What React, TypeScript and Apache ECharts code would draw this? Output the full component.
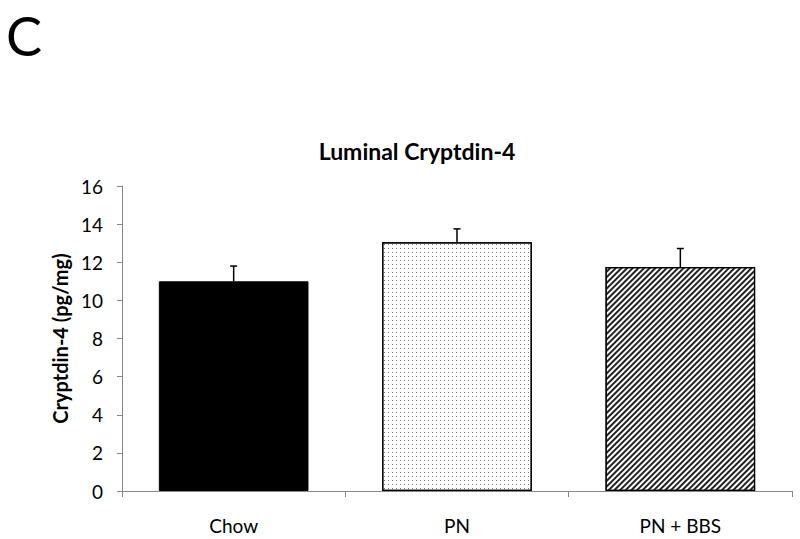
import React, { useEffect, useRef } from "react";
import * as echarts from "echarts";

const categories = ["Chow", "PN", "PN + BBS"];
const means = [11.0, 13.05, 11.75];
const errors = [0.8, 0.7, 0.97];
const yTicks = { min: 0, max: 16, interval: 2 };
const titleText = "Luminal Cryptdin-4";
const yAxisName = "Cryptdin-4 (pg/mg)";
const panelLabel = "C";

const FONT = "Lato, 'Open Sans', sans-serif";

export default function App() {
  const ref = useRef<HTMLDivElement | null>(null);
  useEffect(() => {
    document.body.style.margin = "0";
    if (!ref.current) return;
    const chart = echarts.init(ref.current, null, { renderer: "svg" });
    const barData = means.map((v, i) => {
      if (i === 0) {
        return { value: v, itemStyle: { color: "#000", borderColor: "#000", borderWidth: 1 } };
      }
      if (i === 1) {
        return {
          value: v,
          itemStyle: {
            color: "#fff",
            borderColor: "#000",
            borderWidth: 1.2,
            decal: {
              symbol: "rect",
              symbolSize: 1,
              color: "#777",
              backgroundColor: "#fff",
              dashArrayX: [1, 3],
              dashArrayY: [1, 3],
              rotation: 0,
            },
          },
        };
      }
      return {
        value: v,
        itemStyle: {
          color: "#fff",
          borderColor: "#000",
          borderWidth: 1.2,
          decal: {
            symbol: "rect",
            symbolSize: 1,
            color: "#222",
            backgroundColor: "#fff",
            dashArrayX: [1, 0],
            dashArrayY: [1.8, 1.2],
            rotation: -Math.PI / 4,
          },
        },
      };
    });
    const errData = means.map((m, i) => [i, m, m + errors[i]]);
    chart.setOption({
      animation: false,
      backgroundColor: "#fff",
      textStyle: { fontFamily: FONT },
      grid: { left: 122, right: 8, top: 186, bottom: 48, containLabel: false },
      graphic: [
        {
          type: "text",
          x: 6,
          y: 35,
          style: {
            text: panelLabel,
            fontSize: 54,
            lineHeight: 54,
            fontFamily: FONT,
            fill: "#000",
            align: "left",
            verticalAlign: "middle",
          },
        },
        {
          type: "text",
          x: 417,
          y: 151,
          style: {
            text: titleText,
            fontSize: 23,
            fontWeight: "bold",
            fontFamily: FONT,
            fill: "#000",
            align: "center",
            verticalAlign: "middle",
          },
        },
      ],
      xAxis: {
        type: "category",
        data: categories,
        axisLine: { lineStyle: { color: "#888", width: 1 } },
        axisTick: { show: true, alignWithLabel: false, length: 6, lineStyle: { color: "#888" } },
        axisLabel: { color: "#000", fontSize: 19, margin: 25, fontFamily: FONT },
      },
      yAxis: {
        type: "value",
        min: yTicks.min,
        max: yTicks.max,
        interval: yTicks.interval,
        name: yAxisName,
        nameLocation: "middle",
        nameGap: 52,
        nameTextStyle: { fontSize: 20, fontWeight: "bold", color: "#000", fontFamily: FONT },
        axisLine: { show: true, lineStyle: { color: "#888", width: 1 } },
        axisTick: { show: true, length: 5, lineStyle: { color: "#888" } },
        axisLabel: { color: "#000", fontSize: 19, margin: 19, fontFamily: FONT },
        splitLine: { show: false },
      },
      series: [
        {
          type: "bar",
          data: barData,
          barWidth: "67%",
          z: 2,
        },
        {
          type: "custom",
          z: 5,
          data: errData,
          encode: { x: 0, y: [1, 2] },
          renderItem: (params: any, api: any) => {
            const base = api.coord([api.value(0), api.value(1)]);
            const top = api.coord([api.value(0), api.value(2)]);
            const cap = 3.5;
            const style = { stroke: "#000", lineWidth: 1.5 };
            return {
              type: "group",
              children: [
                { type: "line", shape: { x1: base[0], y1: base[1], x2: top[0], y2: top[1] }, style },
                { type: "line", shape: { x1: top[0] - cap, y1: top[1], x2: top[0] + cap, y2: top[1] }, style },
              ],
            };
          },
        },
      ],
    });
    return () => chart.dispose();
  }, []);
  return <div ref={ref} style={{ width: 800, height: 539 }} />;
}
